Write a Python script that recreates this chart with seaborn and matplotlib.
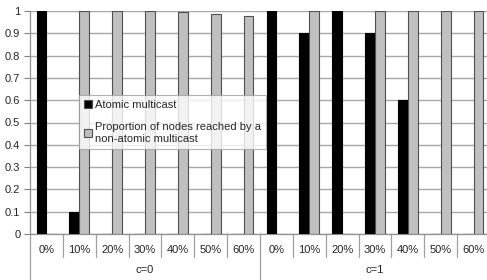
import numpy as np
import pandas as pd
import matplotlib
matplotlib.use("Agg")
import matplotlib.pyplot as plt
import seaborn as sns

sns.set_theme(style="white")
plt.rcParams['font.family'] = ['Liberation Sans', 'DejaVu Sans']

# data
groups = ["c=0", "c=1"]
rates = ["0%", "10%", "20%", "30%", "40%", "50%", "60%"]
atomic_c0 = [1.0, 0.1, 0, 0, 0, 0, 0]
atomic_c1 = [1.0, 0.9, 1.0, 0.9, 0.6, 0, 0]
reached_c0 = [0, 1.0, 0.999, 0.999, 0.995, 0.987, 0.977]
reached_c1 = [0, 1.0, 0, 1.0, 1.0, 1.0, 1.0]
series = ["Atomic multicast",
          "Proportion of nodes reached by a\nnon-atomic multicast"]

rows = []
for g, atom, reach in [(groups[0], atomic_c0, reached_c0), (groups[1], atomic_c1, reached_c1)]:
    for r, a, p in zip(rates, atom, reach):
        key = f"{g} {r}"
        rows.append({"cat": key, "series": series[0], "value": a})
        rows.append({"cat": key, "series": series[1], "value": p})
df = pd.DataFrame(rows)
order = [f"{g} {r}" for g in groups for r in rates]

fs = 8

fig = plt.figure(figsize=(4.87, 2.8), dpi=100)
ax = fig.add_axes([30 / 487, 1 - 234 / 280, 460 / 487, 223 / 280])

sns.barplot(data=df, x="cat", y="value", hue="series", order=order,
            hue_order=series, palette=["#000000", "#c0c0c0"], width=0.6,
            edgecolor="#505050", linewidth=0.8, ax=ax, zorder=3)
for bar in ax.containers[0]:
    bar.set_edgecolor("black")

ax.set_ylim(0, 1)
ax.set_xlim(-0.5, len(order) - 0.5)
ax.set_yticks(np.arange(0, 1.01, 0.1))
ax.set_yticklabels(["0"] + [f"{v:.1f}" for v in np.arange(0.1, 0.95, 0.1)] + ["1"])
ax.yaxis.grid(True, color="#a8a8a8", linewidth=1.0, zorder=0)
ax.set_axisbelow(True)
ax.tick_params(axis="y", length=4, width=0.8, color="#808080", labelsize=fs, pad=3, left=True)
ax.tick_params(axis="x", length=0, labelsize=fs, pad=8)
ax.set_xticks(range(len(order)))
ax.set_xticklabels(rates * 2)
ax.set_xlabel("")
ax.set_ylabel("")
for side in ["top", "right"]:
    ax.spines[side].set_visible(False)
for side in ["left", "bottom"]:
    ax.spines[side].set_color("#909090")
    ax.spines[side].set_linewidth(0.9)

# category separators below the axis
trans = ax.get_xaxis_transform()
for i in range(len(order) + 1):
    x = i - 0.5
    long = i % len(rates) == 0
    y_end = -46 / 223 if long else -23 / 223
    ax.plot([x, x], [0, y_end], color="#a0a0a0", lw=0.9, transform=trans, clip_on=False)

for gi, g in enumerate(groups):
    ax.text(gi * len(rates) + 3, -36 / 223, g, transform=trans,
            ha="center", va="center", fontsize=fs)

leg = ax.legend(loc="upper left", bbox_to_anchor=(79 / 487, 1 - 95 / 280),
                bbox_transform=fig.transFigure, fontsize=fs, frameon=True,
                fancybox=False, handlelength=0.75, handleheight=0.75,
                handletextpad=0.25, labelspacing=1.1, borderpad=0.45,
                borderaxespad=0)
leg.get_frame().set_edgecolor("#a0a0a0")
leg.get_frame().set_linewidth(0.8)
leg.set_zorder(5)

fig.savefig("out.png", dpi=100)
